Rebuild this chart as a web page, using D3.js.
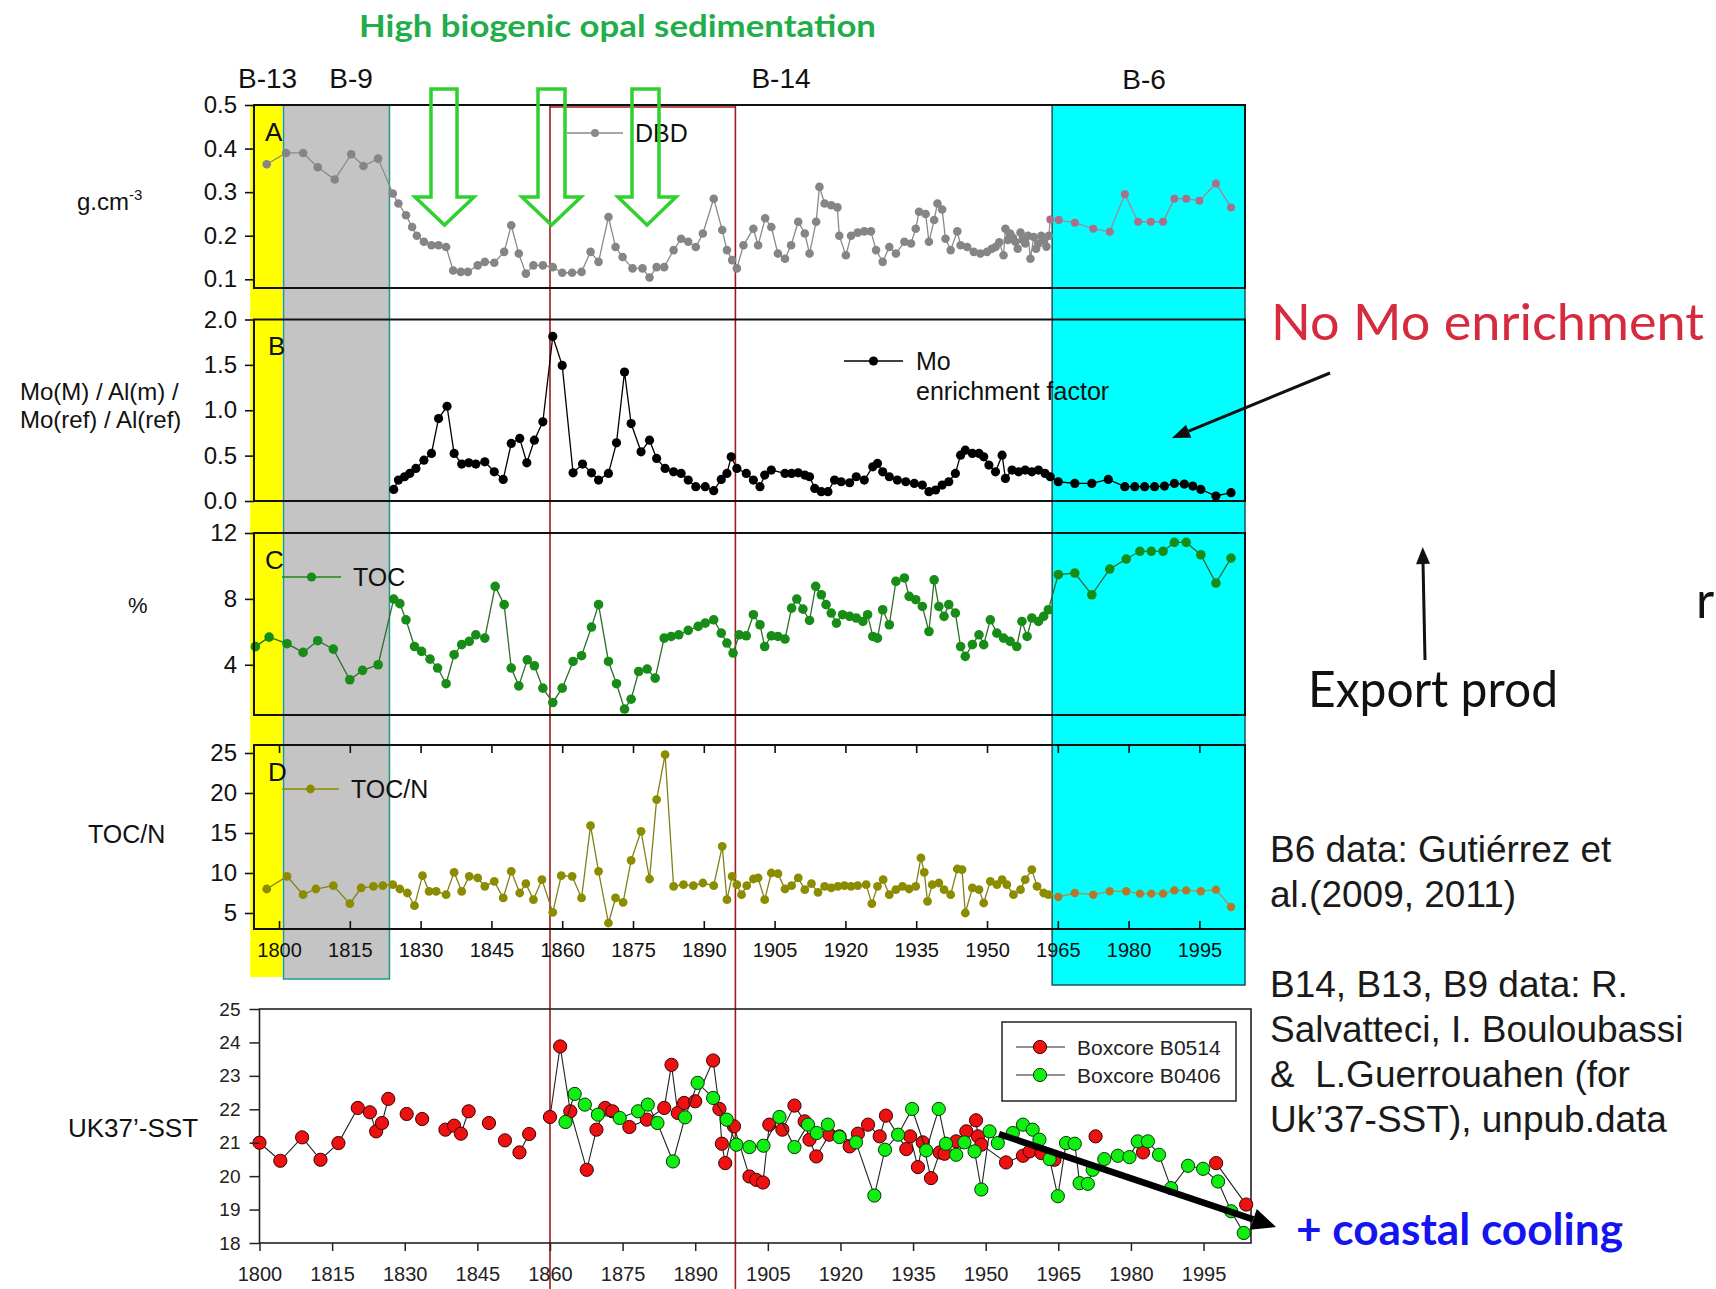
<!DOCTYPE html>
<html><head><meta charset="utf-8">
<script src="https://cdn.jsdelivr.net/npm/d3@7"></script>
<style>
html,body{margin:0;padding:0;background:#fff;}
svg{display:block;}
</style></head><body>
<svg id="fig" width="1716" height="1289"></svg>
<script>
// ---------------- data ----------------
const yearTicks = [1800,1815,1830,1845,1860,1875,1890,1905,1920,1935,1950,1965,1980,1995];
const dbdTicks = [0.1,0.2,0.3,0.4,0.5];
const moTicks = [0,0.5,1,1.5,2];
const tocTicks = [4,8,12];
const tocnTicks = [5,10,15,20,25];
const sstTicks = [18,19,20,21,22,23,24,25];
const coreNames = ['B-13','B-9','B-14','B-6'];

// core spans (years)
const spanB13 = [1793.9, 1800.7];
const spanB9  = [1800.95, 1823.4];
const spanB6  = [1963.8, 2004.66];
// high-opal interval limits (years, SST axis)
const opalInterval = [1860, 1898.3];

// A: dry bulk density (g/cm3)
const dbdB14 = [[1797.4,0.364],[1801.5,0.39],[1805.1,0.39],[1808.2,0.357],[1811.8,0.329],[1815.3,0.387],[1817.9,0.36],[1821.0,0.377],[1824.1,0.297],[1825.3,0.274],[1826.9,0.247],[1828.2,0.22],[1829.2,0.2],[1830.7,0.186],[1832.3,0.178],[1833.8,0.178],[1835.4,0.174],[1836.9,0.12],[1838.5,0.117],[1840.0,0.117],[1842.1,0.132],[1843.6,0.14],[1845.6,0.138],[1847.7,0.163],[1849.2,0.224],[1850.8,0.159],[1852.3,0.113],[1853.9,0.132],[1855.9,0.132],[1858.0,0.128],[1860.0,0.115],[1862.1,0.115],[1864.1,0.117],[1866.0,0.163],[1867.7,0.14],[1869.8,0.243],[1871.3,0.174],[1872.8,0.151],[1874.9,0.125],[1877.0,0.125],[1878.5,0.104],[1880.0,0.128],[1881.6,0.128],[1883.6,0.167],[1885.2,0.193],[1886.7,0.186],[1888.3,0.174],[1889.8,0.205],[1892.1,0.285],[1893.9,0.213],[1894.9,0.167],[1896.0,0.144],[1897.0,0.125],[1898.4,0.178],[1900.5,0.216],[1901.5,0.178],[1903.0,0.24],[1904.3,0.22],[1905.7,0.159],[1907.2,0.147],[1908.5,0.178],[1910.0,0.232],[1911.4,0.205],[1912.4,0.159],[1913.8,0.232],[1914.5,0.312],[1915.6,0.274],[1917.0,0.27],[1918.3,0.265],[1918.7,0.2],[1920.1,0.155],[1921.2,0.2],[1922.6,0.207],[1924.0,0.21],[1925.4,0.21],[1926.5,0.167],[1927.9,0.14],[1929.3,0.174],[1930.7,0.159],[1932.5,0.186],[1933.9,0.182],[1934.9,0.216],[1935.6,0.255],[1937.0,0.25],[1937.7,0.186],[1938.8,0.236],[1939.5,0.274],[1940.5,0.26],[1941.2,0.193],[1942.3,0.167],[1943.7,0.21],[1944.4,0.178],[1945.8,0.174],[1947.2,0.163],[1948.6,0.159],[1950.0,0.163],[1951.0,0.17],[1951.8,0.174],[1952.6,0.185],[1953.5,0.155],[1953.9,0.216],[1954.4,0.19],[1954.9,0.205],[1955.5,0.195],[1956.0,0.186],[1956.5,0.17],[1957.1,0.207],[1957.6,0.19],[1958.1,0.182],[1958.7,0.2],[1959.2,0.147],[1959.9,0.197],[1960.4,0.17],[1960.9,0.182],[1961.5,0.2],[1962.0,0.19],[1962.6,0.175],[1963.1,0.2]];
const dbdB6 = [[1963.4,0.237],[1965.2,0.236],[1968.6,0.23],[1972.5,0.216],[1976.0,0.209],[1979.2,0.295],[1982.0,0.232],[1984.7,0.232],[1987.3,0.232],[1989.7,0.285],[1992.2,0.285],[1995.0,0.28],[1998.5,0.32],[2001.7,0.265]];

// B: Mo enrichment factor
const moB14 = [[1824.3,0.128],[1825.3,0.231],[1826.6,0.267],[1827.7,0.304],[1829.0,0.359],[1830.7,0.45],[1832.3,0.524],[1833.8,0.908],[1835.6,1.044],[1837.1,0.524],[1838.7,0.407],[1840.2,0.421],[1841.7,0.407],[1843.6,0.432],[1845.6,0.322],[1847.5,0.238],[1849.2,0.634],[1851.0,0.689],[1852.5,0.421],[1854.1,0.67],[1855.9,0.872],[1858.0,1.813],[1860.0,1.494],[1862.3,0.311],[1864.3,0.407],[1866.2,0.311],[1867.7,0.231],[1869.8,0.304],[1871.5,0.641],[1873.2,1.421],[1874.6,0.853],[1876.7,0.542],[1878.5,0.67],[1880.0,0.469],[1881.8,0.359],[1883.6,0.322],[1885.2,0.304],[1886.7,0.231],[1888.3,0.158],[1890.3,0.158],[1892.1,0.114],[1893.7,0.238],[1894.9,0.304],[1895.8,0.487],[1897.0,0.359],[1899.0,0.304],[1900.5,0.231],[1901.9,0.158],[1902.9,0.286],[1904.3,0.341],[1907.2,0.304],[1908.6,0.304],[1910.0,0.311],[1911.4,0.286],[1912.4,0.267],[1913.5,0.139],[1914.9,0.103],[1916.3,0.103],[1917.7,0.231],[1919.1,0.212],[1920.9,0.201],[1922.3,0.267],[1924.0,0.231],[1925.8,0.377],[1926.8,0.414],[1927.9,0.322],[1929.3,0.267],[1931.0,0.231],[1932.8,0.212],[1934.6,0.194],[1936.3,0.176],[1937.7,0.103],[1939.1,0.121],[1940.5,0.176],[1941.9,0.212],[1943.3,0.304],[1944.4,0.505],[1945.4,0.56],[1946.9,0.524],[1948.3,0.524],[1949.3,0.487],[1950.4,0.396],[1951.8,0.322],[1953.2,0.505],[1953.9,0.249],[1955.3,0.341],[1956.7,0.322],[1958.1,0.341],[1959.5,0.322],[1960.9,0.341],[1962.3,0.304],[1963.4,0.267]];
const moB6 = [[1965.1,0.212],[1968.6,0.194],[1972.2,0.194],[1975.7,0.238],[1979.2,0.158],[1981.3,0.158],[1983.4,0.158],[1985.5,0.158],[1987.6,0.165],[1989.7,0.194],[1991.8,0.187],[1993.6,0.165],[1995.3,0.128],[1998.5,0.055],[2001.7,0.092]];

// C: total organic carbon (%)
const tocB14 = [[1795.0,5.1],[1797.9,5.68],[1801.7,5.28],[1805.1,4.75],[1808.2,5.46],[1811.5,4.95],[1815.0,3.09],[1817.7,3.66],[1821.0,4.0],[1824.3,7.99],[1825.6,7.71],[1826.9,6.73],[1828.7,5.11],[1830.2,4.81],[1832.0,4.34],[1833.6,3.8],[1835.4,2.85],[1837.1,4.61],[1838.7,5.22],[1840.3,5.42],[1841.7,5.82],[1843.6,5.62],[1845.8,8.76],[1847.7,7.65],[1849.2,3.8],[1850.8,2.72],[1852.6,4.3],[1854.1,3.94],[1855.9,2.58],[1858.0,1.71],[1860.0,2.58],[1862.3,4.2],[1864.1,4.55],[1866.2,6.29],[1867.7,7.65],[1869.8,4.2],[1871.5,2.85],[1873.2,1.31],[1874.6,1.91],[1876.2,3.59],[1878.0,3.74],[1879.7,3.19],[1881.6,5.62],[1883.1,5.72],[1884.7,5.82],[1886.7,6.09],[1888.8,6.33],[1890.3,6.53],[1892.1,6.73],[1893.7,5.92],[1894.9,5.32],[1896.2,4.71],[1897.5,5.82],[1899.0,5.76],[1900.5,7.04],[1901.9,6.43],[1902.9,5.11],[1904.3,5.76],[1905.7,5.72],[1907.2,5.56],[1908.6,7.44],[1909.7,7.99],[1911.0,7.38],[1912.4,6.69],[1913.7,8.76],[1914.9,8.25],[1915.9,7.65],[1917.0,7.14],[1918.1,6.53],[1919.4,7.04],[1920.9,6.94],[1922.3,6.84],[1923.7,6.63],[1924.7,7.04],[1925.8,5.72],[1926.8,5.62],[1927.9,7.34],[1929.3,6.43],[1930.7,9.06],[1932.5,9.27],[1933.5,8.15],[1934.9,7.95],[1936.3,7.54],[1937.7,6.02],[1938.8,9.16],[1939.8,7.54],[1940.9,6.94],[1941.9,7.65],[1943.3,7.14],[1944.4,5.11],[1945.4,4.51],[1946.9,5.22],[1948.3,5.82],[1949.3,5.22],[1950.7,6.73],[1952.1,5.92],[1953.5,5.62],[1954.9,5.42],[1956.3,5.11],[1957.4,6.63],[1958.5,5.72],[1959.5,6.84],[1960.9,6.63],[1962.0,6.94],[1963.0,7.34]];
const tocB6 = [[1965.1,9.47],[1968.6,9.57],[1972.2,8.25],[1976.0,9.81],[1979.5,10.42],[1982.4,10.89],[1984.8,10.89],[1987.3,10.89],[1989.7,11.43],[1992.2,11.43],[1995.3,10.68],[1998.5,8.96],[2001.7,10.48]];

// D: TOC/N ratio
const tocnB14 = [[1797.4,8.0],[1801.7,9.58],[1805.1,7.29],[1807.8,8.0],[1811.5,8.42],[1815.0,6.17],[1817.4,8.13],[1820.0,8.33],[1822.0,8.42],[1824.1,8.54],[1825.6,8.0],[1827.2,7.5],[1828.7,5.92],[1830.4,9.67],[1831.8,7.71],[1833.3,7.71],[1835.4,7.29],[1837.1,10.08],[1838.7,7.71],[1840.3,9.58],[1842.1,9.38],[1843.6,8.33],[1845.6,8.96],[1847.5,6.88],[1849.2,10.21],[1851.0,7.5],[1852.3,8.67],[1853.9,6.67],[1855.7,9.17],[1858.0,5.08],[1859.8,9.67],[1862.1,9.58],[1864.1,6.88],[1866.0,15.92],[1867.7,10.21],[1869.8,3.75],[1871.3,6.88],[1872.9,6.33],[1874.6,11.58],[1876.7,15.21],[1878.5,9.25],[1880.0,19.17],[1881.8,24.8],[1883.6,8.33],[1885.7,8.54],[1887.8,8.42],[1889.8,8.75],[1892.1,8.42],[1893.9,13.33],[1894.9,6.67],[1896.0,9.58],[1897.0,8.54],[1898.0,7.29],[1899.1,8.42],[1900.5,9.25],[1901.5,9.38],[1902.9,6.67],[1904.3,10.0],[1905.7,9.92],[1907.2,8.0],[1908.6,8.42],[1910.0,9.38],[1911.4,7.92],[1912.8,8.67],[1914.2,7.58],[1915.6,8.33],[1917.0,8.13],[1918.4,8.33],[1919.8,8.42],[1921.2,8.33],[1922.6,8.42],[1924.4,8.54],[1925.6,6.17],[1926.8,8.33],[1928.0,9.17],[1929.3,7.29],[1930.7,7.92],[1932.1,8.33],[1933.5,8.0],[1934.9,8.33],[1936.0,11.88],[1936.7,10.08],[1937.4,6.46],[1938.4,8.54],[1939.8,8.75],[1940.9,7.92],[1942.3,7.29],[1943.7,10.5],[1944.7,10.42],[1945.4,5.0],[1946.9,8.13],[1948.3,7.92],[1949.3,6.25],[1950.7,8.96],[1952.1,8.54],[1953.2,9.17],[1954.2,8.54],[1955.6,7.29],[1957.1,7.92],[1958.1,9.17],[1959.5,10.42],[1960.6,8.33],[1962.0,7.5],[1963.0,7.29]];
const tocnB6 = [[1965.1,7.0],[1968.6,7.5],[1972.5,7.29],[1976.0,7.71],[1979.5,7.71],[1982.4,7.42],[1984.8,7.42],[1987.3,7.42],[1989.7,7.83],[1992.2,7.83],[1995.3,7.71],[1998.5,7.92],[2001.7,5.75]];

// UK37'-SST, boxcore B0514 (continuous runs of samples)
const sstB0514 = [
  [[1800.0,21.0],[1804.3,20.46],[1808.8,21.16],[1812.6,20.49],[1816.3,20.99],[1820.3,22.04],[1822.8,21.91],[1824.1,21.34],[1825.3,21.59],[1826.6,22.31]],
  [[1830.4,21.86]],
  [[1833.6,21.71]],
  [[1838.4,21.39],[1840.2,21.51],[1841.6,21.27],[1843.2,21.94]],
  [[1847.4,21.59]],
  [[1850.7,21.07]],
  [[1853.7,20.71],[1855.7,21.26]],
  [[1860.0,21.77],[1862.1,23.88],[1864.2,21.94],[1867.6,20.19],[1869.6,21.39],[1871.4,22.04],[1872.9,21.94],[1876.4,21.47],[1880.0,21.69],[1883.6,22.04],[1885.1,23.33],[1886.4,21.89],[1887.7,22.19],[1890.0,22.24],[1893.7,23.46],[1895.0,22.01],[1895.5,20.97],[1896.2,20.39],[1898.0,21.49],[1901.2,19.99],[1902.6,19.89],[1904.0,19.81],[1905.3,21.54],[1908.0,21.39],[1910.5,22.11],[1912.6,21.64],[1913.6,21.09],[1915.0,20.59],[1917.7,21.24],[1919.8,21.19],[1921.9,20.89],[1923.6,21.27],[1925.7,21.54],[1928.1,21.19],[1929.4,21.81],[1933.6,20.81],[1934.4,21.19],[1936.0,20.27],[1937.0,21.01],[1938.7,19.94],[1940.5,20.71],[1941.5,20.67],[1943.9,21.04],[1946.0,21.34],[1948.0,21.67],[1948.4,21.19],[1949.1,20.94],[1954.2,20.41],[1957.7,20.61],[1959.1,20.74],[1961.5,20.69],[1964.2,20.49]],
  [[1972.7,21.19]],
  [[1982.5,20.71]],
  [[1997.6,20.39],[2003.8,19.15]]
];
// UK37'-SST, boxcore B0406
const sstB0406 = [[1863.2,21.62],[1865.1,22.46],[1867.2,22.14],[1869.9,21.84],[1874.4,21.74],[1878.2,21.94],[1880.2,22.14],[1882.2,21.59],[1885.4,20.44],[1887.9,21.76],[1890.5,22.79],[1893.7,22.34],[1896.5,21.69],[1898.5,20.94],[1901.2,20.87],[1904.1,20.91],[1907.4,21.77],[1910.5,20.87],[1913.3,21.54],[1915.1,21.29],[1917.4,21.54],[1919.8,21.17],[1923.2,21.01],[1927.0,19.42],[1929.2,20.79],[1931.9,21.24],[1934.8,22.01],[1937.7,20.77],[1940.3,22.01],[1941.8,20.97],[1943.9,20.64],[1945.6,21.01],[1947.7,20.74],[1949.1,19.6],[1950.8,21.34],[1952.5,20.99],[1955.6,21.29],[1957.7,21.54],[1959.7,21.39],[1961.1,21.09],[1963.2,20.51],[1964.9,19.4],[1966.6,20.99],[1968.4,20.97],[1969.4,19.79],[1971.1,19.77],[1972.1,20.19],[1974.5,20.51],[1977.3,20.61],[1979.7,20.57],[1981.4,21.04],[1983.5,21.04],[1985.8,20.64],[1988.3,19.64],[1991.8,20.31],[1994.9,20.22],[1998.0,19.84],[2000.7,18.95],[2003.3,18.3]];

// ---------------- drawing ----------------
const FONT = '"Liberation Sans", Arial, Helvetica, sans-serif';
const HUM = 'Lato, "Open Sans", "Noto Sans", sans-serif';
const svg = d3.select('#fig');
svg.append('rect').attr('width',1716).attr('height',1289).attr('fill','#fff');

const xU = d3.scaleLinear().domain([1794.7, 2004.66]).range([254, 1245]);
const xS = d3.scaleLinear().domain([1800, 2004.8]).range([259.5, 1251]);

// core background bands
const bands = svg.append('g');
bands.append('rect').attr('x', xU(spanB13[0])).attr('y',105).attr('width', xU(spanB13[1])-xU(spanB13[0])).attr('height',872).attr('fill','#ffff00');
bands.append('rect').attr('x', xU(spanB9[0])).attr('y',105).attr('width', xU(spanB9[1])-xU(spanB9[0])).attr('height',874).attr('fill','#c4c4c4').attr('stroke','#1f9a88').attr('stroke-width',1.5);
bands.append('rect').attr('x', xU(spanB6[0])).attr('y',105).attr('width', xU(spanB6[1])-xU(spanB6[0])).attr('height',880).attr('fill','#00ffff').attr('stroke','#1b5257').attr('stroke-width',1.5);

// high opal interval outline
const red = svg.append('g').attr('stroke','#a3181c').attr('stroke-width',1.6).attr('fill','none');
opalInterval.forEach(yr => red.append('line').attr('x1',xS(yr)).attr('x2',xS(yr)).attr('y1',106).attr('y2',1289));
red.append('line').attr('x1',xS(opalInterval[0])).attr('x2',xS(opalInterval[1])).attr('y1',107).attr('y2',107);

const panels = [
  {top:105, bottom:288, domain:[0.08,0.5], ticks:dbdTicks, fmt:d3.format('.1f'), letter:'A', lx:265,
   series:[{data:dbdB14, color:'#858585', line:'#8a8a8a', r:4.3},{data:dbdB6, color:'#a8708a', line:'#b08098', r:4, join:true}]},
  {top:319.5, bottom:501, domain:[0,2], ticks:moTicks, fmt:d3.format('.1f'), letter:'B', lx:268,
   series:[{data:moB14, color:'#000', line:'#000', r:4.6},{data:moB6, color:'#000', line:'#000', r:4.6, join:true}]},
  {top:533, bottom:715, domain:[0.95,12], ticks:tocTicks, fmt:d3.format('d'), letter:'C', lx:265,
   series:[{data:tocB14, color:'#178c17', line:'#2d6e2d', r:4.8},{data:tocB6, color:'#178c17', line:'#2d6e2d', r:4.8, join:true}]},
  {top:745, bottom:929, domain:[3,26], ticks:tocnTicks, fmt:d3.format('d'), letter:'D', lx:268,
   series:[{data:tocnB14, color:'#8c8c00', line:'#80801a', r:4.4},{data:tocnB6, color:'#b5782a', line:'#b98a4a', r:4.2, join:true}]}
];

panels.forEach(p => {
  const y = d3.scaleLinear().domain(p.domain).range([p.bottom, p.top]);
  const g = svg.append('g');
  const line = d3.line().x(d => xU(d[0])).y(d => y(d[1]));
  p.series.forEach((s, i) => {
    const pts = s.join ? [p.series[i-1].data[p.series[i-1].data.length-1], ...s.data] : s.data;
    g.append('path').attr('d', line(pts)).attr('fill','none').attr('stroke', s.line).attr('stroke-width',1.3);
  });
  p.series.forEach(s => {
    g.selectAll(null).data(s.data).join('circle')
      .attr('cx', d => xU(d[0])).attr('cy', d => y(d[1])).attr('r', s.r).attr('fill', s.color);
  });
  // frame
  svg.append('rect').attr('x',254).attr('y',p.top).attr('width',1245-254).attr('height',p.bottom-p.top)
    .attr('fill','none').attr('stroke','#111').attr('stroke-width',2);
  // y axis
  const ax = svg.append('g').attr('transform','translate(254,0)')
    .call(d3.axisLeft(y).tickValues(p.ticks).tickFormat(p.fmt).tickSize(9).tickPadding(8));
  ax.select('.domain').remove();
  ax.selectAll('line').attr('stroke','#111').attr('stroke-width',1.6);
  ax.selectAll('text').attr('font-family',FONT).attr('font-size',24).attr('fill','#111');
  // panel letter
  svg.append('text').attr('x',p.lx).attr('y',p.top+35.5).text(p.letter)
    .attr('font-family',FONT).attr('font-size',26).attr('fill','#111');
  p.y = y;
});

// year axis under panel D (ticks inside top and bottom)
const pD = panels[3];
const axB = svg.append('g').attr('transform',`translate(0,${pD.bottom})`)
  .call(d3.axisBottom(xU).tickValues(yearTicks).tickFormat(d3.format('d')).tickSize(-8).tickPadding(14));
axB.select('.domain').remove();
axB.selectAll('line').attr('stroke','#111').attr('stroke-width',1.6);
axB.selectAll('text').attr('font-family',FONT).attr('font-size',20).attr('fill','#111');
const axT = svg.append('g').attr('transform',`translate(0,${pD.top})`)
  .call(d3.axisTop(xU).tickValues(yearTicks).tickFormat('').tickSize(-8));
axT.select('.domain').remove();
axT.selectAll('line').attr('stroke','#111').attr('stroke-width',1.6);

// in-panel legends
function legendEntry(x1, x2, y, color, r, label, tx, ty) {
  svg.append('line').attr('x1',x1).attr('x2',x2).attr('y1',y).attr('y2',y).attr('stroke',color).attr('stroke-width',1.4);
  svg.append('circle').attr('cx',(x1+x2)/2).attr('cy',y).attr('r',r).attr('fill',color);
  label.forEach((t,i) => svg.append('text').attr('x',tx).attr('y',ty+i*30).text(t)
    .attr('font-family',FONT).attr('font-size',25).attr('fill','#111'));
}
legendEntry(567, 623, 133, '#8a8a8a', 4, ['DBD'], 635, 142);
legendEntry(844, 903, 361, '#000', 4.6, ['Mo','enrichment factor'], 916, 370);
legendEntry(282, 341, 577, '#178c17', 4.6, ['TOC'], 353, 586);
legendEntry(282, 339, 789, '#8c8c00', 4.4, ['TOC/N'], 351, 798);

// y titles
const tt = (x, y, s, size) => svg.append('text').attr('x',x).attr('y',y).text(s)
  .attr('font-family',FONT).attr('font-size',size).attr('fill','#111');
const gcm = svg.append('text').attr('x',77).attr('y',210).attr('font-family',FONT).attr('font-size',24).attr('fill','#111');
gcm.append('tspan').text('g.cm');
gcm.append('tspan').text('-3').attr('font-size',15).attr('dy',-10);
tt(20, 400, 'Mo(M) / Al(m) /', 24);
tt(20, 428, 'Mo(ref) / Al(ref)', 24);
tt(128, 613, '%', 22);
tt(88, 843, 'TOC/N', 25);
tt(68, 1137, 'UK37’-SST', 26);

// core labels
[[coreNames[0],267.6,87.5],[coreNames[1],351,87.5],[coreNames[2],781,87.5],[coreNames[3],1144,89]].forEach(([s,x,y]) =>
  svg.append('text').attr('x',x).attr('y',y).attr('text-anchor','middle').text(s)
    .attr('font-family',FONT).attr('font-size',28).attr('fill','#111'));

// hollow arrows marking high opal deposition
const opalArrows = svg.append('g').attr('fill','none').attr('stroke','#2fd12f').attr('stroke-width',3.5).attr('stroke-linejoin','miter');
[[431,457,415,474],[538,565,522,581],[632,659,618,676]].forEach(([s1,s2,h1,h2]) => {
  const cx = (h1+h2)/2, top = 89, base = 197, tip = 225;
  opalArrows.append('path').attr('d', `M${s1},${top}L${s2},${top}L${s2},${base}L${h2},${base}L${cx},${tip}L${h1},${base}L${s1},${base}Z`);
});
svg.append('text').attr('x',359).attr('y',37).text('High biogenic opal sedimentation')
  .attr('font-family',HUM).attr('font-weight','bold').attr('font-size',31).attr('fill','#1fae4a')
  .attr('textLength',517).attr('lengthAdjust','spacingAndGlyphs');

// ---------------- SST panel ----------------
const yS = d3.scaleLinear().domain([18,25]).range([1243,1009]);
const gS = svg.append('g');
gS.append('rect').attr('x',259.5).attr('y',1009).attr('width',1251-259.5).attr('height',234)
  .attr('fill','none').attr('stroke','#222').attr('stroke-width',1.6);
const lineS = d3.line().x(d => xS(d[0])).y(d => yS(d[1]));
sstB0514.forEach(seg => gS.append('path').attr('d', lineS(seg)).attr('fill','none').attr('stroke','#222').attr('stroke-width',1.1));
gS.selectAll(null).data(sstB0514.flat()).join('circle')
  .attr('cx', d => xS(d[0])).attr('cy', d => yS(d[1])).attr('r',6.6)
  .attr('fill','#ee1111').attr('stroke','#3a0000').attr('stroke-width',1);
gS.append('path').attr('d', lineS(sstB0406)).attr('fill','none').attr('stroke','#222').attr('stroke-width',1.1);
gS.selectAll(null).data(sstB0406).join('circle')
  .attr('cx', d => xS(d[0])).attr('cy', d => yS(d[1])).attr('r',6.6)
  .attr('fill','#11ee11').attr('stroke','#003a00').attr('stroke-width',1);

const axSY = svg.append('g').attr('transform','translate(259.5,0)')
  .call(d3.axisLeft(yS).tickValues(sstTicks).tickFormat(d3.format('d')).tickSize(10).tickPadding(9));
axSY.select('.domain').remove();
axSY.selectAll('line').attr('stroke','#222').attr('stroke-width',1.5);
axSY.selectAll('text').attr('font-family',FONT).attr('font-size',19).attr('fill','#222');
const axSX = svg.append('g').attr('transform','translate(0,1243)')
  .call(d3.axisBottom(xS).tickValues(yearTicks).tickFormat(d3.format('d')).tickSize(8).tickPadding(16));
axSX.select('.domain').remove();
axSX.selectAll('line').attr('stroke','#222').attr('stroke-width',1.5);
axSX.selectAll('text').attr('font-family',FONT).attr('font-size',20).attr('fill','#222');

// SST legend
const lg = svg.append('g');
lg.append('rect').attr('x',1002).attr('y',1022).attr('width',234).attr('height',79).attr('fill','#fff').attr('stroke','#222').attr('stroke-width',1.5);
[['Boxcore B0514','#ee1111','#3a0000',1047],['Boxcore B0406','#11ee11','#003a00',1075]].forEach(([s,f,st,y]) => {
  lg.append('line').attr('x1',1016).attr('x2',1065).attr('y1',y).attr('y2',y).attr('stroke','#222').attr('stroke-width',1.2);
  lg.append('circle').attr('cx',1040).attr('cy',y).attr('r',6.6).attr('fill',f).attr('stroke',st);
  lg.append('text').attr('x',1077).attr('y',y+8).text(s).attr('font-family',FONT).attr('font-size',21).attr('fill','#222');
});

// ---------------- annotations ----------------
function arrow(x1, y1, x2, y2, w, hl, hw, color) {
  const a = Math.atan2(y2-y1, x2-x1);
  const bx = x2 - hl*Math.cos(a), by = y2 - hl*Math.sin(a);
  svg.append('line').attr('x1',x1).attr('y1',y1).attr('x2',bx).attr('y2',by).attr('stroke',color).attr('stroke-width',w);
  const px = -Math.sin(a)*hw/2, py = Math.cos(a)*hw/2;
  svg.append('path').attr('d',`M${x2},${y2}L${bx+px},${by+py}L${bx-px},${by-py}Z`).attr('fill',color);
}
arrow(1330, 373, 1172, 438, 3, 18, 14, '#111');
arrow(1425, 660, 1422.7, 547, 3, 17, 14, '#111');
arrow(999, 1134, 1276, 1227, 6.5, 24, 22, '#000');

svg.append('text').attr('x',1271).attr('y',340).text('No Mo enrichment')
  .attr('font-family',HUM).attr('font-size',50).attr('fill','#d62b3f')
  .attr('textLength',433).attr('lengthAdjust','spacingAndGlyphs');
svg.append('text').attr('x',1308).attr('y',707).text('Export prod')
  .attr('font-family',HUM).attr('font-size',50).attr('fill','#111')
  .attr('textLength',250).attr('lengthAdjust','spacingAndGlyphs');
svg.append('text').attr('x',1696).attr('y',618).text('r')
  .attr('font-family',HUM).attr('font-size',50).attr('fill','#111');
svg.append('text').attr('x',1296).attr('y',1245).text('+ coastal cooling')
  .attr('font-family',HUM).attr('font-weight','bold').attr('font-size',44).attr('fill','#1414f0')
  .attr('textLength',327).attr('lengthAdjust','spacingAndGlyphs');

const credits = ['B6 data: Gutiérrez et','al.(2009, 2011)','','B14, B13, B9 data: R.','Salvatteci, I. Bouloubassi','&  L.Guerrouahen (for','Uk’37-SST), unpub.data'];
const creditY = [862, 907, null, 997, 1042, 1087, 1132];
credits.forEach((s,i) => { if (s) svg.append('text').attr('x',1270).attr('y',creditY[i]).text(s)
  .attr('font-family',FONT).attr('font-size',37).attr('fill','#1a1a1a').attr('xml:space','preserve').style('white-space','pre'); });
</script></body></html>
